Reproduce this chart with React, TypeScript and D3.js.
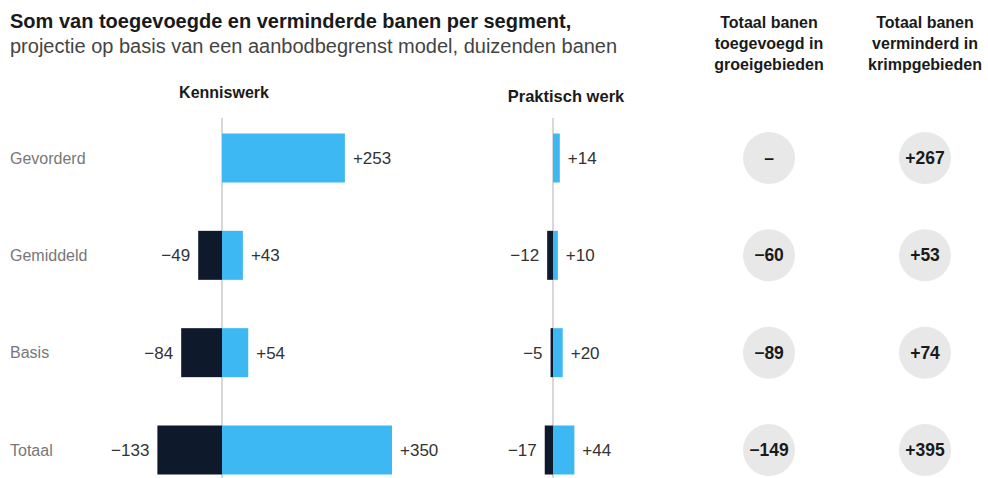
import React from 'react';
import { scaleLinear, scalePoint } from 'd3';

const categories = ['Gevorderd', 'Gemiddeld', 'Basis', 'Totaal'];
const kennisLost = [0, -49, -84, -133];
const kennisAdded = [253, 43, 54, 350];
const praktischLost = [0, -12, -5, -17];
const praktischAdded = [14, 10, 20, 44];
const totalGrowth: (number | null)[] = [null, -60, -89, -149];
const totalShrink = [267, 53, 74, 395];

const BLUE = '#3db8f2';
const NAVY = '#0e1a2b';
const FONT = '"Liberation Sans", Arial, sans-serif';

const fmt = (v: number) => (v > 0 ? `+${v}` : `\u2212${Math.abs(v)}`);

const App = () => {
  const width = 988;
  const height = 478;

  const y = scalePoint<string>().domain(categories).range([158, 450]);
  const barH = 49;

  // same px per thousand jobs for both panels
  const kx = scaleLinear().domain([0, 350]).range([222, 392]);
  const px = scaleLinear().domain([0, 350]).range([553, 723]);

  const panel = (x: typeof kx, lost: number[], added: number[], key: string) => (
    <g key={key}>
      <line x1={x(0)} x2={x(0)} y1={118} y2={height} stroke="#b0b0b0" strokeWidth={1} />
      {categories.map((c, i) => {
        const cy = y(c)!;
        return (
          <g key={c}>
            {lost[i] !== 0 && (
              <>
                <rect x={x(lost[i])} y={cy - barH / 2} width={x(0) - x(lost[i])} height={barH} fill={NAVY} />
                <text x={x(lost[i]) - 8} y={cy} dy="0.35em" textAnchor="end" fontSize={17} fill="#333">
                  {fmt(lost[i])}
                </text>
              </>
            )}
            <rect x={x(0)} y={cy - barH / 2} width={x(added[i]) - x(0)} height={barH} fill={BLUE} />
            <text x={x(added[i]) + 8} y={cy} dy="0.35em" fontSize={17} fill="#333">
              {fmt(added[i])}
            </text>
          </g>
        );
      })}
    </g>
  );

  const circleCols = [
    { cx: 769, values: totalGrowth, lines: ['Totaal banen', 'toegevoegd in', 'groeigebieden'] },
    { cx: 925, values: totalShrink, lines: ['Totaal banen', 'verminderd in', 'krimpgebieden'] },
  ];

  return (
    <svg width={width} height={height} style={{ position: 'absolute', left: 0, top: 0, fontFamily: FONT }}>
      <rect width={width} height={height} fill="#fff" />
      <text x={10} y={28} fontSize={20} fontWeight="bold" fill="#1a1a1a">
        Som van toegevoegde en verminderde banen per segment,
      </text>
      <text x={10} y={53} fontSize={20} fill="#444">
        projectie op basis van een aanbodbegrenst model, duizenden banen
      </text>

      <text x={224} y={98} textAnchor="middle" fontSize={16} fontWeight="bold" fill="#1a1a1a">
        Kenniswerk
      </text>
      <text x={566} y={102} textAnchor="middle" fontSize={16.5} fontWeight="bold" fill="#1a1a1a">
        Praktisch werk
      </text>

      {categories.map((c) => (
        <text key={c} x={10} y={y(c)!} dy="0.35em" fontSize={16} fill="#777">
          {c}
        </text>
      ))}

      {panel(kx, kennisLost, kennisAdded, 'kennis')}
      {panel(px, praktischLost, praktischAdded, 'praktisch')}

      {circleCols.map((col, ci) => (
        <g key={ci}>
          {col.lines.map((l, li) => (
            <text key={li} x={col.cx} y={28 + li * 21} textAnchor="middle" fontSize={16} fontWeight="bold" fill="#1a1a1a">
              {l}
            </text>
          ))}
          {categories.map((c, i) => {
            const v = col.values[i];
            return (
              <g key={c}>
                <circle cx={col.cx} cy={y(c)!} r={26} fill="#e8e8e8" />
                <text x={col.cx} y={y(c)!} dy="0.35em" textAnchor="middle" fontSize={17.5} fontWeight="bold" fill="#1a1a1a">
                  {v === null ? '\u2013' : fmt(v)}
                </text>
              </g>
            );
          })}
        </g>
      ))}
    </svg>
  );
};

export default App;
